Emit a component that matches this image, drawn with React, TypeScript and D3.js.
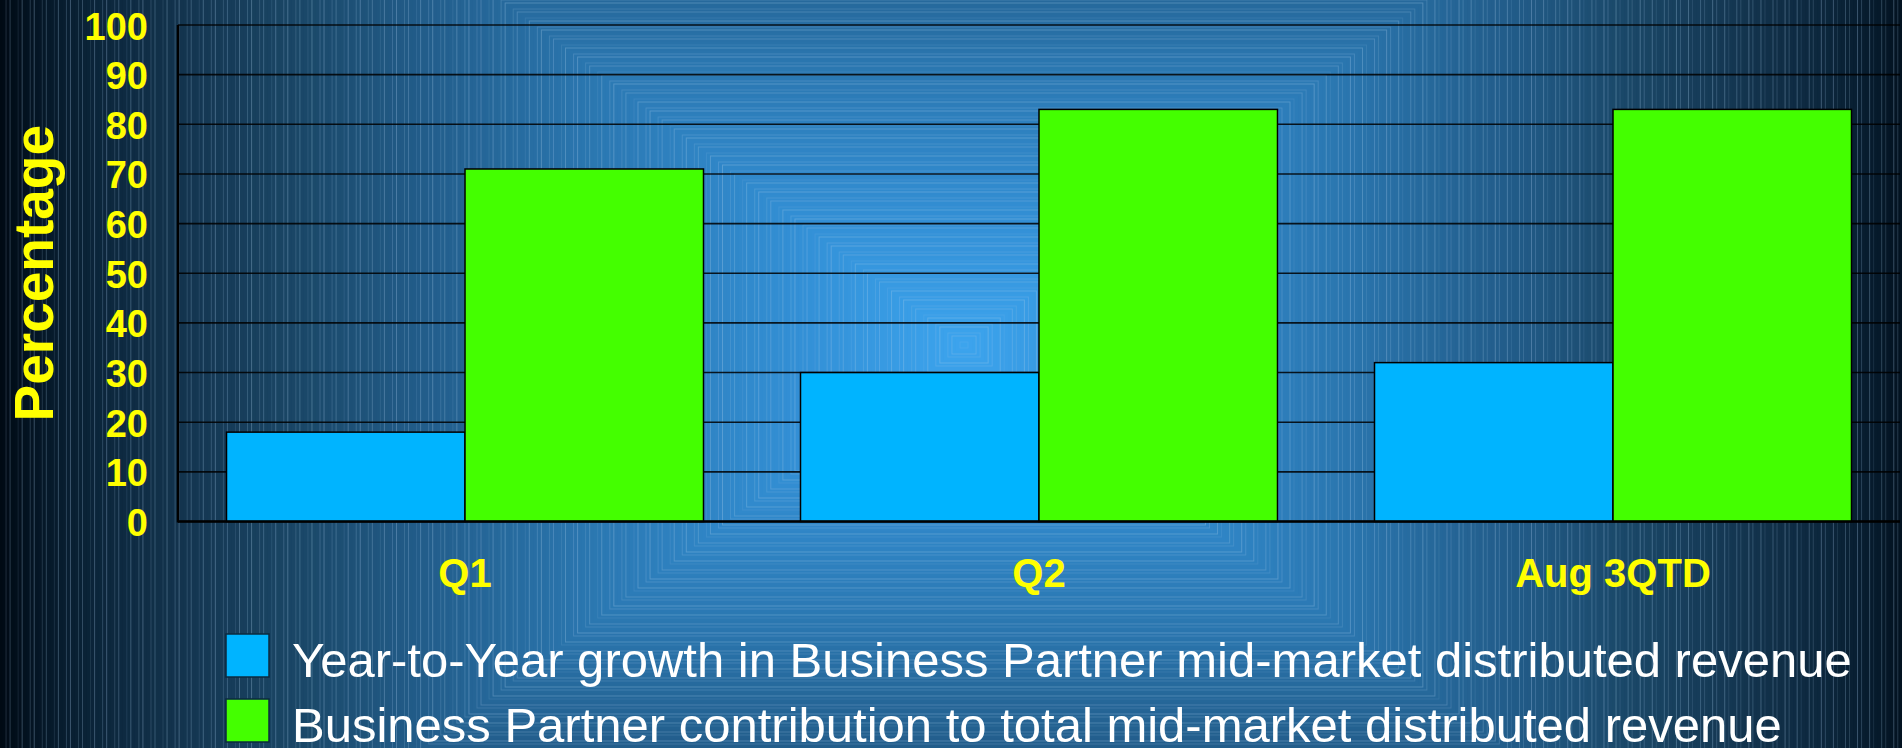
import React from "react";
import * as d3 from "d3";

const categories = ["Q1", "Q2", "Aug 3QTD"];
const seriesNames = [
  "Year-to-Year growth in Business Partner mid-market distributed revenue",
  "Business Partner contribution to total mid-market distributed revenue",
];
const growthValues = [18, 30, 32];
const contributionValues = [71, 83, 83];
const seriesColors = ["#00b4ff", "#44ff00"];
const yTicks = [0, 10, 20, 30, 40, 50, 60, 70, 80, 90, 100];

const W = 1902;
const H = 748;
const FONT = "'Liberation Sans', Arial, Helvetica, sans-serif";

// backdrop: rectangular "from center" gradient like the old slide template
const bgStops = [0, 0.17, 0.38, 0.48, 0.58, 0.69, 0.8, 0.9, 0.95, 1];
const bgColors = ["#3ca4ee", "#3390d6", "#2b78b2", "#26699c", "#215a86", "#1a4767", "#143651", "#0b253a", "#06192a", "#000a14"];

const Background = () => {
  const cx = 964;
  const cy = 345;
  const hw = 966;
  const hh = 720;
  const n = 240;
  const color = d3.scaleLinear<string>().domain(bgStops).range(bgColors).interpolate(d3.interpolateRgb);
  const alphas = [0.32, 0, 0.18, 0.26, 0, 0.12, 0.3, 0, 0.22];
  const rings = d3.range(n).map((i) => 1 - i / n);
  return (
    <g>
      {rings.map((t, i) => (
        <rect
          key={i}
          x={cx - t * hw}
          y={cy - t * hh}
          width={2 * t * hw}
          height={2 * t * hh}
          fill={color(t)}
          stroke={`rgba(170,205,235,${alphas[i % alphas.length]})`}
          strokeWidth={1}
        />
      ))}
    </g>
  );
};

export default function App() {
  const margin = { top: 25, right: 2, bottom: 226.5, left: 178 };
  const plotBottom = H - margin.bottom;

  const x0 = d3
    .scaleBand()
    .domain(categories)
    .range([margin.left, W - margin.right])
    .paddingInner(0.169)
    .paddingOuter(0.0845);
  const x1 = d3.scaleBand().domain(["growth", "contribution"]).range([0, x0.bandwidth()]);
  const y = d3.scaleLinear().domain([0, 100]).range([plotBottom, margin.top]);

  const rows = categories.map((c, i) => ({
    cat: c,
    vals: [
      { key: "growth", v: growthValues[i], color: seriesColors[0] },
      { key: "contribution", v: contributionValues[i], color: seriesColors[1] },
    ],
  }));

  return (
    <svg
      width={W}
      height={H}
      style={{ position: "absolute", left: 0, top: 0, display: "block" }}
      fontFamily={FONT}
    >
      <Background />

      {/* grid */}
      {yTicks.map((t) => (
        <line
          key={t}
          x1={margin.left}
          x2={W - margin.right}
          y1={y(t)}
          y2={y(t)}
          stroke="#000"
          strokeOpacity={0.85}
          strokeWidth={1.6}
        />
      ))}

      {/* bars */}
      {rows.map((r) => (
        <g key={r.cat} transform={`translate(${x0(r.cat)},0)`}>
          {r.vals.map((d) => (
            <rect
              key={d.key}
              x={x1(d.key)}
              y={y(d.v)}
              width={x1.bandwidth()}
              height={y(0) - y(d.v)}
              fill={d.color}
              stroke="#000"
              strokeWidth={1.5}
            />
          ))}
        </g>
      ))}

      {/* axes lines */}
      <line x1={margin.left} x2={margin.left} y1={margin.top} y2={plotBottom + 1} stroke="#000" strokeWidth={2.5} />
      <line x1={margin.left} x2={W - margin.right} y1={plotBottom} y2={plotBottom} stroke="#000" strokeWidth={2.5} />

      {/* y tick labels */}
      {yTicks.map((t) => (
        <text
          key={t}
          x={148}
          y={y(t) + 14.5}
          textAnchor="end"
          fill="#ffff00"
          fontWeight="bold"
          fontSize={38}
        >
          {t}
        </text>
      ))}

      <text
        transform={`translate(53,${(margin.top + plotBottom) / 2}) rotate(-90)`}
        textAnchor="middle"
        fill="#ffff00"
        fontWeight="bold"
        fontSize={55}
      >
        Percentage
      </text>

      {/* category labels */}
      {categories.map((c) => (
        <text
          key={c}
          x={(x0(c) ?? 0) + x0.bandwidth() / 2}
          y={587}
          textAnchor="middle"
          fill="#ffff00"
          fontWeight="bold"
          fontSize={40}
        >
          {c}
        </text>
      ))}

      {/* legend */}
      {seriesNames.map((s, i) => (
        <g key={s} transform={`translate(226,${634 + i * 65})`}>
          <rect width={43} height={43} fill={seriesColors[i]} stroke="#0b2a3f" strokeWidth={1.5} />
          <text x={66} y={43} fill="#ffffff" fontSize={49}>
            {s}
          </text>
        </g>
      ))}
    </svg>
  );
}
